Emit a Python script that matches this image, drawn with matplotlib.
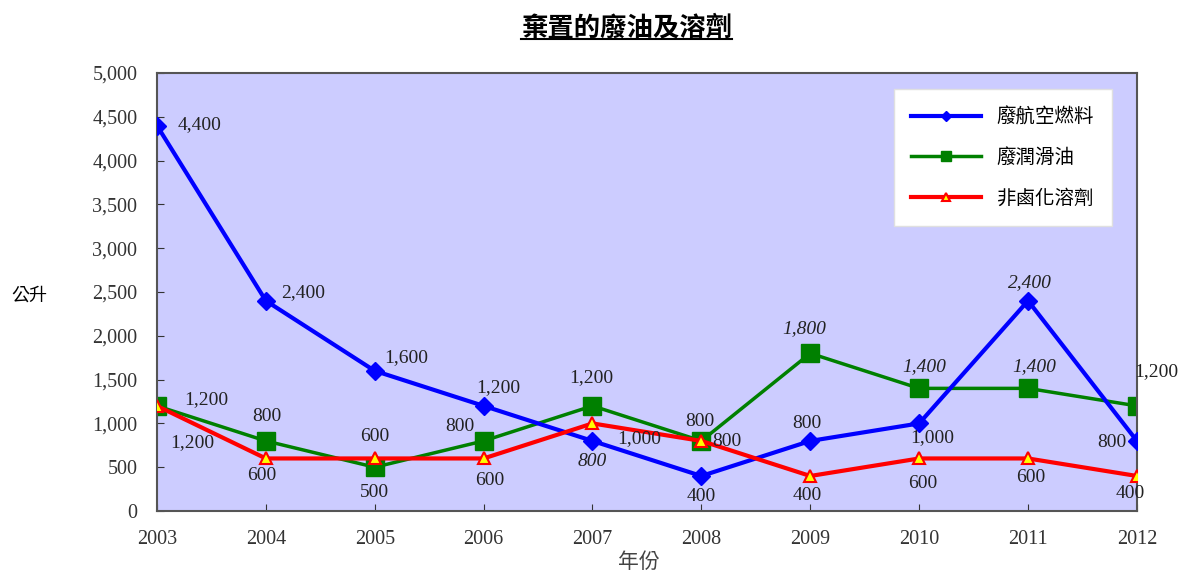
import numpy as np
import matplotlib.pyplot as plt
from matplotlib.lines import Line2D

plt.rcParams['font.family'] = ['Liberation Serif', 'Noto Sans CJK TC', 'DejaVu Sans']

# datos
anos = [2003, 2004, 2005, 2006, 2007, 2008, 2009, 2010, 2011, 2012]
combustivel = [4400, 2400, 1600, 1200, 800, 400, 800, 1000, 2400, 800]
lubrificante = [1200, 800, 500, 800, 1200, 800, 1800, 1400, 1400, 1200]
solvente = [1200, 600, 600, 600, 1000, 800, 400, 600, 600, 400]
nomes = ["廢航空燃料", "廢潤滑油", "非鹵化溶劑"]

# deslocamento dos rótulos (pixels)
desl_comb = [(43, 1), (37, 8), (32, 13), (15, 18), (0, -21), (0, -21), (-3, 17), (13, -14), (2, 18), (-25, -2)]
desl_lub = [(49, 6), (1, 24), (0, -25), (-24, 14), (-1, 28), (-2, 19), (-6, 25), (5, 22), (6, 22), (19, 34)]
desl_solv = [(35, -37), (-4, -17), (0, 22), (6, -22), (47, -15), (25, -1), (-3, -20), (4, -25), (3, -19), (-7, -18)]
italico_comb = [4, 8]
italico_lub = [6, 7, 8]

fig = plt.figure(figsize=(11.8, 5.76), dpi=100)
ax = fig.add_axes([0.133, 0.1128, 0.8305, 0.7605])
ax.set_facecolor("#CCCCFF")

ax.plot(anos, combustivel, color="#0000FF", lw=3, marker="D", ms=9, label=nomes[0], zorder=3)
ax.plot(anos, lubrificante, color="#008000", lw=2.5, marker="s", ms=13, label=nomes[1], zorder=2)
ax.plot(anos, solvente, color="#FF0000", lw=3, marker="^", ms=9, mfc="#FFFF00", mec="#FF0000",
        mew=1.5, label=nomes[2], zorder=4)

def rotulos(vals, desl, ital):
    for i, (x, v) in enumerate(zip(anos, vals)):
        ax.annotate(f"{v:,}", (x, v), xytext=desl[i], textcoords="offset pixels",
                    ha="center", va="center", fontsize=14, color="#222222",
                    style="italic" if i in ital else "normal", annotation_clip=False, zorder=5)

rotulos(combustivel, desl_comb, italico_comb)
rotulos(lubrificante, desl_lub, italico_lub)
rotulos(solvente, desl_solv, [])

ax.set_xlim(2003, 2012)
ax.set_ylim(0, 5000)
ax.set_xticks(anos)
ax.set_yticks(np.arange(0, 5001, 500))
ax.set_yticklabels([f"{v:,}" for v in range(0, 5001, 500)])
ax.tick_params(direction="in", length=5, labelsize=14.5, colors="#333333")
ax.tick_params(axis="y", pad=14)
ax.tick_params(axis="x", pad=14)
for s in ax.spines.values():
    s.set_color("#555555")
    s.set_linewidth(1.5)

fig.text(0.01, 0.486, "公升", fontsize=13, ha="left", va="center", family=['Noto Sans CJK TC'])
fig.text(0.541, 0.024, "年份", fontsize=15, ha="center", va="center", color="#444444", family=['Noto Sans CJK TC'])

titulo = fig.text(0.531, 0.952, "棄置的廢油及溶劑", fontsize=19, fontweight="bold", ha="center", va="center",
                  family=['Noto Sans CJK TC'])

leg = ax.legend(loc="upper left", bbox_to_anchor=(0.742, 0.985), fontsize=14, frameon=True,
                fancybox=False, edgecolor="#E0E0E0", framealpha=1, labelspacing=1.0,
                handlelength=3.6, borderpad=0.9, markerscale=0.6)
for t in leg.get_texts():
    t.set_family(['Noto Sans CJK TC'])

# sublinhado do título
fig.canvas.draw()
bb = titulo.get_window_extent().transformed(fig.transFigure.inverted())
fig.add_artist(Line2D([bb.x0, bb.x1], [bb.y0 + 0.004, bb.y0 + 0.004], color="black", lw=1.5,
                      transform=fig.transFigure))

plt.savefig("out.png", dpi=100)
